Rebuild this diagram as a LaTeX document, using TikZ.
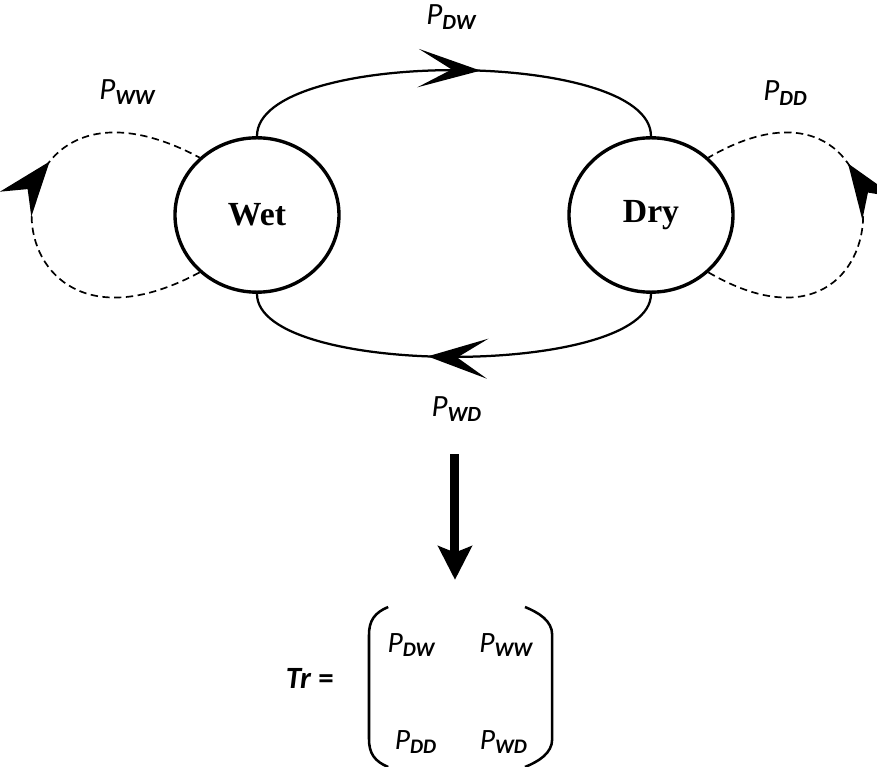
\documentclass[tikz,border=0pt]{standalone}
\usepackage{fontspec}
\setmainfont{Carlito}
\newfontfamily\statefont{Liberation Serif}
\usepackage{tikz}
\usetikzlibrary{arrows.meta}
\usetikzlibrary{shapes.geometric}
\usetikzlibrary{decorations.markings}
\tikzstyle{statenode}=[black, draw=black, line width=1.2pt, shape=ellipse, fill=white, minimum width=2.05cm, minimum height=1.93cm, inner sep=0pt, font=\statefont\bfseries\large]
\tikzstyle{problabel}=[shape=rectangle, inner sep=0pt, font=\fontsize{11}{13}\selectfont]
\tikzstyle{matentry}=[shape=rectangle, inner sep=0pt, font=\fontsize{10.5}{12}\selectfont]
\tikzstyle{transline}=[black, line width=0.8pt]
\tikzstyle{loopline}=[black, line width=0.6pt, dash pattern=on 2.6pt off 1.6pt]
\tikzstyle{parenline}=[black, line width=0.9pt]
\newcommand{\psub}[1]{\textit{P}\textsubscript{\textbf{\textit{#1}}}}

\begin{document}
\begin{tikzpicture}
\useasboundingbox (-5.6125,-6.9) rectangle (5.35,2.6875);

\node [statenode] (wet) at (-2.4,0) {Wet};
\node [statenode] (dry) at (2.525,0) {Dry};

\draw[transline, decoration={markings, mark=at position 0.56 with {\arrow{Stealth[length=0.78cm, width=0.48cm, inset=0.42cm]}}}, postaction={decorate}] (wet.north) .. controls +(0,1.1) and +(0,1.1) .. (dry.north);
\draw[transline, decoration={markings, mark=at position 0.56 with {\arrow{Stealth[length=0.75cm, width=0.5cm, inset=0.38cm]}}}, postaction={decorate}] (dry.south) .. controls +(0,-1.05) and +(0,-1.05) .. (wet.south);
\draw[loopline, decoration={markings, mark=at position 0.63 with {\arrow{Stealth[length=0.68cm, width=0.5cm, inset=0.24cm]}}}, postaction={decorate}] (wet.225) .. controls +(-2.8,-1.5) and +(-2.8,1.5) .. (wet.135);
\draw[loopline, decoration={markings, mark=at position 0.63 with {\arrow{Stealth[length=0.68cm, width=0.5cm, inset=0.24cm]}}}, postaction={decorate}] (dry.-45) .. controls +(2.58,-1.5) and +(2.58,1.5) .. (dry.45);

\node [problabel] (pdw) at (0.04,2.475) {\psub{DW}};
\node [problabel] (pww) at (-4.01,1.54) {\psub{WW}};
\node [problabel] (pdd) at (4.21,1.525) {\psub{DD}};
\node [problabel] (pwd) at (0.1,-2.425) {\psub{WD}};

\coordinate (arrtop) at (0.075,-2.99);
\coordinate (arrtip) at (0.075,-4.56);
\draw[-{Stealth[length=0.42cm, width=0.42cm, inset=0.08cm]}, line width=3.2pt, color=black] (arrtop) -- (arrtip);

\node [shape=rectangle, inner sep=0pt, font=\fontsize{11}{13}\selectfont\bfseries] (trlabel) at (-1.74,-5.79) {\textit{Tr} =};
\node [matentry] (mdw) at (-0.46,-5.375) {\psub{DW}};
\node [matentry] (mww) at (0.725,-5.375) {\psub{WW}};
\node [matentry] (mdd) at (-0.41,-6.59) {\psub{DD}};
\node [matentry] (mwd) at (0.69,-6.59) {\psub{WD}};
\draw[parenline] (-0.76,-4.9) .. controls (-0.93,-4.97) and (-1.0,-5.07) .. (-1.0,-5.25) -- (-1.0,-6.55) .. controls (-1.0,-6.73) and (-0.93,-6.83) .. (-0.76,-6.9);
\draw[parenline] (0.95,-4.9) .. controls (1.12,-4.97) and (1.29,-5.07) .. (1.29,-5.25) -- (1.29,-6.55) .. controls (1.29,-6.73) and (1.12,-6.83) .. (0.95,-6.9);
\end{tikzpicture}
\end{document}
